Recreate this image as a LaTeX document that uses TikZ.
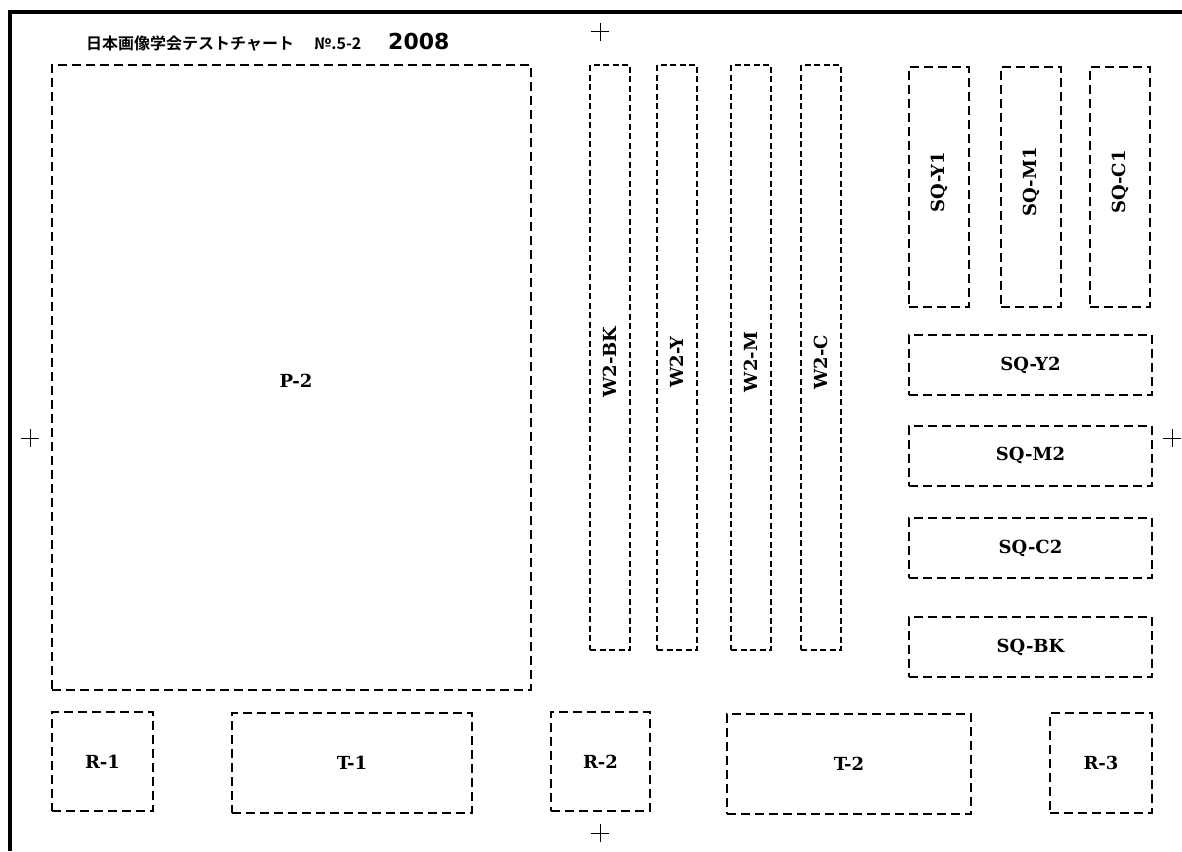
\documentclass[tikz,border=0pt]{standalone}
\usepackage{fontspec}
\setmainfont{DejaVu Serif}
\newfontfamily\jp{Noto Sans CJK JP}[BoldFont={Noto Sans CJK JP Bold}]
\newfontfamily\yearfont{DejaVu Sans}
\begin{document}
\begin{tikzpicture}[x=1pt,y=-1pt,
  lbl/.style={font=\bfseries\fontsize{18}{18}\selectfont},
  box/.style={draw, dash pattern=on 9pt off 5pt, line width=2pt, inner sep=0pt, lbl},
  bar/.style={draw, dash pattern=on 6pt off 3.5pt, line width=1.4pt, inner sep=0pt},
  frame/.style={line width=3.5pt},
  regmark/.style={line width=1pt},
  ttl/.style={anchor=base west, inner sep=0pt}
]
\useasboundingbox (0,0) rectangle (1182,851);
% frame
\coordinate (ftr) at (1182,12);
\coordinate (fc) at (10,12);
\coordinate (fbl) at (10,851);
\draw[frame] (ftr) -- (fc) -- (fbl);
% title
\node[ttl] (tjp) at (86,50) {\jp\bfseries\fontsize{16}{16}\selectfont 日本画像学会テストチャート};
\node[ttl] (tno) at (314,50) {\jp\bfseries\fontsize{16}{16}\selectfont №.5-2};
\node[ttl] (tyr) at (388,50) {\yearfont\bfseries\fontsize{22}{22}\selectfont 2008};
% large patch
\node[box, minimum width=479pt, minimum height=625pt] (p2) at (291.5,377.5) {};
\node[lbl] (p2l) at (296,381) {P-2};
% W2 bars
\node[bar, minimum width=40pt, minimum height=585pt] (w2bk) at (610,357.5) {};
\node[bar, minimum width=40pt, minimum height=585pt] (w2y) at (677,357.5) {};
\node[bar, minimum width=40pt, minimum height=585pt] (w2m) at (751,357.5) {};
\node[bar, minimum width=40pt, minimum height=585pt] (w2c) at (821,357.5) {};
\node[rotate=90, lbl] (lw2bk) at (610,362) {W2-BK};
\node[rotate=90, lbl] (lw2y) at (677,362) {W2-Y};
\node[rotate=90, lbl] (lw2m) at (751,362) {W2-M};
\node[rotate=90, lbl] (lw2c) at (821,362) {W2-C};
% SQ vertical
\node[box, minimum width=60pt, minimum height=240pt] (sqy1) at (939,187) {};
\node[box, minimum width=60pt, minimum height=240pt] (sqm1) at (1031,187) {};
\node[box, minimum width=60pt, minimum height=240pt] (sqc1) at (1120,187) {};
\node[rotate=90, lbl] (lsqy1) at (939,182) {SQ-Y1};
\node[rotate=90, lbl] (lsqm1) at (1031,182) {SQ-M1};
\node[rotate=90, lbl] (lsqc1) at (1120,182) {SQ-C1};
% SQ horizontal
\node[box, minimum width=243pt, minimum height=60pt] (sqy2) at (1030.5,365) {SQ-Y2};
\node[box, minimum width=243pt, minimum height=60pt] (sqm2) at (1030.5,455.5) {SQ-M2};
\node[box, minimum width=243pt, minimum height=60pt] (sqc2) at (1030.5,548) {SQ-C2};
\node[box, minimum width=243pt, minimum height=60pt] (sqbk) at (1030.5,647) {SQ-BK};
% bottom row
\node[box, minimum width=101pt, minimum height=99pt] (r1) at (102.5,761.5) {R-1};
\node[box, minimum width=240pt, minimum height=100pt] (t1) at (352,763) {T-1};
\node[box, minimum width=99pt, minimum height=99pt] (r2) at (600.5,761.5) {R-2};
\node[box, minimum width=244pt, minimum height=100pt] (t2) at (849,764) {T-2};
\node[box, minimum width=102pt, minimum height=100pt] (r3) at (1101,763) {R-3};
% registration marks
\foreach \n/\x/\y in {ct/600/32, cl/30/438, cr/1172/438, cb/600/833}{
  \coordinate (\n) at (\x,\y);
  \draw[regmark] ([xshift=-9pt]\n) -- ([xshift=9pt]\n);
  \draw[regmark] ([yshift=-9pt]\n) -- ([yshift=9pt]\n);
}
\end{tikzpicture}
\end{document}
